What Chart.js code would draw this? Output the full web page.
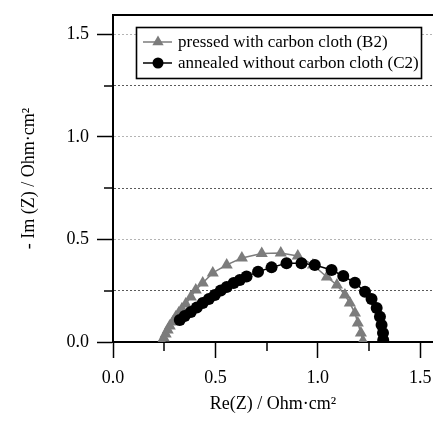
<!DOCTYPE html>
<html>
<head>
<meta charset="utf-8">
<script src="https://cdn.jsdelivr.net/npm/chart.js@4.4.1/dist/chart.umd.min.js"></script>
<style>
  html, body { margin: 0; padding: 0; background: #ffffff; }
  #wrap { width: 433px; height: 425px; }
</style>
</head>
<body>
<div id="wrap"><canvas id="c" width="433" height="425"></canvas></div>
<script>
// ---- data ----
const seriesLabels = ['pressed with carbon cloth (B2)', 'annealed without carbon cloth (C2)'];

const b2Re = [0.238, 0.248, 0.257, 0.267, 0.277, 0.292, 0.306, 0.321, 0.336, 0.355, 0.380, 0.404, 0.438, 0.487, 0.555, 0.629, 0.726, 0.819, 0.902, 0.976, 1.044, 1.093, 1.132, 1.156, 1.181, 1.195, 1.210, 1.220];
const b2Im = [0.000, 0.020, 0.039, 0.059, 0.078, 0.098, 0.122, 0.141, 0.161, 0.185, 0.220, 0.254, 0.288, 0.337, 0.376, 0.410, 0.432, 0.434, 0.420, 0.376, 0.317, 0.278, 0.229, 0.190, 0.141, 0.093, 0.044, 0.005];

const c2Re = [0.326, 0.350, 0.380, 0.409, 0.438, 0.468, 0.497, 0.526, 0.555, 0.589, 0.619, 0.652, 0.708, 0.774, 0.847, 0.920, 0.985, 1.067, 1.124, 1.181, 1.230, 1.262, 1.287, 1.303, 1.311, 1.318, 1.319];
const c2Im = [0.107, 0.127, 0.146, 0.168, 0.190, 0.210, 0.229, 0.251, 0.268, 0.288, 0.302, 0.319, 0.343, 0.364, 0.384, 0.384, 0.376, 0.351, 0.322, 0.289, 0.245, 0.210, 0.166, 0.123, 0.083, 0.044, 0.010];

const xTickValues = [0, 0.5, 1.0, 1.5];
const yTickValues = [0, 0.5, 1.0, 1.5];
const xTitle = 'Re(Z) / Ohm\u00B7cm\u00B2';
const yTitle = '- Im (Z) / Ohm\u00B7cm\u00B2';

// ---- build ----
const toPts = (xs, ys) => xs.map((v, i) => ({ x: v, y: ys[i] }));
const SERIF = "'Liberation Serif', 'Times New Roman', serif";
const GRAY = '#7c7c7c';
const isMajor = v => Math.abs(v * 2 - Math.round(v * 2)) < 1e-6;
const isQuarter = v => Math.abs(v * 4 - Math.round(v * 4)) < 1e-6;

Chart.defaults.font.family = SERIF;
Chart.defaults.color = '#000';

const minorTicks = {
  id: 'minorTicks',
  afterDraw(chart) {
    const ctx = chart.ctx, xs = chart.scales.x, ys = chart.scales.y;
    ctx.save();
    ctx.strokeStyle = '#000';
    ctx.lineWidth = 1.5;
    xs.ticks.forEach(t => {
      if (isQuarter(t.value) && !isMajor(t.value)) {
        const p = Math.round(xs.getPixelForValue(t.value));
        ctx.beginPath(); ctx.moveTo(p, xs.top); ctx.lineTo(p, xs.top + 9); ctx.stroke();
      }
    });
    ys.ticks.forEach(t => {
      if (isQuarter(t.value) && !isMajor(t.value)) {
        const p = Math.round(ys.getPixelForValue(t.value));
        ctx.beginPath(); ctx.moveTo(ys.right, p); ctx.lineTo(ys.right - 9, p); ctx.stroke();
      }
    });
    ctx.restore();
  }
};

const boxLegend = {
  id: 'boxLegend',
  afterDraw(chart) {
    const ctx = chart.ctx;
    const bx = 136.5, by = 27.5, bw = 285, bh = 51;
    ctx.save();
    ctx.fillStyle = '#fff';
    ctx.fillRect(bx, by, bw, bh);
    ctx.strokeStyle = '#000';
    ctx.lineWidth = 1.6;
    ctx.strokeRect(bx, by, bw, bh);
    const rows = [42, 63];
    chart.data.datasets.forEach(ds => {
      const yy = rows[ds.legendRow];
      ctx.strokeStyle = ds.borderColor;
      ctx.lineWidth = 1.5;
      ctx.beginPath(); ctx.moveTo(143, yy); ctx.lineTo(172, yy); ctx.stroke();
      ctx.fillStyle = ds.pointBackgroundColor;
      ctx.strokeStyle = ds.pointBackgroundColor;
      Chart.helpers.drawPoint(ctx, {
        pointStyle: ds.pointStyle, radius: ds.pointRadius - 0.5, rotation: 0, borderWidth: 0
      }, 158, yy);
      ctx.fillStyle = '#000';
      ctx.font = '17px ' + SERIF;
      ctx.textBaseline = 'middle';
      ctx.fillText(ds.label, 178, yy + 0.5);
    });
    ctx.restore();
  }
};

new Chart(document.getElementById('c'), {
  type: 'scatter',
  data: {
    datasets: [
      {
        label: seriesLabels[0],
        data: toPts(b2Re, b2Im),
        showLine: true,
        borderColor: GRAY,
        borderWidth: 1.5,
        pointStyle: 'triangle',
        pointRadius: 7,
        pointBackgroundColor: GRAY,
        pointBorderColor: GRAY,
        pointBorderWidth: 0,
        order: 2,
        legendRow: 0
      },
      {
        label: seriesLabels[1],
        data: toPts(c2Re, c2Im),
        showLine: true,
        borderColor: '#000',
        borderWidth: 1.5,
        pointStyle: 'circle',
        pointRadius: 6,
        pointBackgroundColor: '#000',
        pointBorderColor: '#000',
        pointBorderWidth: 0,
        order: 1,
        legendRow: 1
      }
    ]
  },
  options: {
    responsive: false,
    animation: false,
    events: [],
    layout: { autoPadding: false, padding: { top: 15, left: 0, right: 0, bottom: 0 } },
    plugins: { legend: { display: false }, tooltip: { enabled: false } },
    scales: {
      x: {
        type: 'linear', position: 'bottom', min: 0, max: 1.562,
        afterFit: s => { s.height = 83; s.paddingLeft = 0; s.paddingRight = 0; },
        ticks: {
          stepSize: 0.25, includeBounds: false, autoSkip: false, maxRotation: 0,
          padding: 9, color: '#000', font: { family: SERIF, size: 18 },
          callback: v => xTickValues.some(t => Math.abs(t - v) < 1e-6) ? Number(v).toFixed(1) : ''
        },
        grid: {
          drawOnChartArea: false, drawTicks: true, tickLength: 16, tickWidth: 1.5,
          tickColor: c => (c.tick && isMajor(c.tick.value)) ? '#000' : 'rgba(0,0,0,0)'
        },
        border: { display: true, color: '#000', width: 2 },
        title: { display: true, text: xTitle, color: '#000', font: { family: SERIF, size: 18 }, padding: { top: 0, bottom: 10 } }
      },
      xTop: {
        type: 'linear', position: 'top', min: 0, max: 1.562, display: true,
        afterFit: s => { s.height = 0; s.paddingLeft = 0; s.paddingRight = 0; },
        ticks: { display: false }, grid: { display: false },
        border: { display: true, color: '#000', width: 2 }
      },
      y: {
        type: 'linear', position: 'left', min: 0, max: 1.595,
        afterFit: s => { s.width = 113; s.paddingTop = 0; s.paddingBottom = 0; },
        ticks: {
          stepSize: 0.25, includeBounds: false, autoSkip: false,
          padding: 8, color: '#000', font: { family: SERIF, size: 18 },
          callback: v => yTickValues.some(t => Math.abs(t - v) < 1e-6) ? Number(v).toFixed(1) : ''
        },
        grid: {
          drawOnChartArea: true, drawTicks: true, tickLength: 16, tickWidth: 1.5, lineWidth: 1,
          color: c => {
            const v = c.tick ? c.tick.value : 0;
            if (v < 1e-6 || !isQuarter(v)) return 'rgba(0,0,0,0)';
            return isMajor(v) ? '#b4b4b4' : '#5a5a5a';
          },
          tickColor: c => (c.tick && isMajor(c.tick.value)) ? '#000' : 'rgba(0,0,0,0)'
        },
        border: { display: true, color: '#000', width: 2, dash: [2, 2] },
        title: { display: true, text: yTitle, color: '#000', font: { family: SERIF, size: 18 }, padding: { top: 18, bottom: 0 } }
      }
    }
  },
  plugins: [minorTicks, boxLegend]
});
</script>
</body>
</html>
